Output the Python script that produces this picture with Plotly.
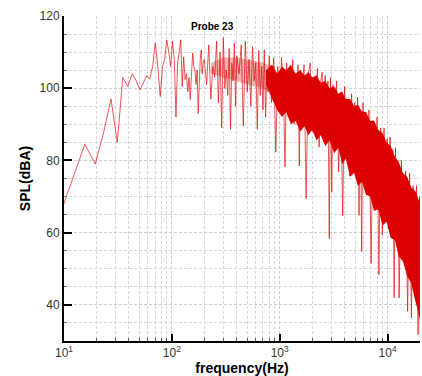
import plotly.graph_objects as go

# ---- data ----
# low-frequency FFT bins (bin spacing ~3.9 Hz)
low_freq = [7.8, 11.7, 15.6, 19.5, 23.4, 27.3, 31.2, 35.1, 39.0, 42.9, 46.8, 50.7, 54.6, 58.5, 62.4,
            66.3, 70.2, 74.1, 78.0, 81.9, 85.8, 89.7, 93.6, 97.5, 101.4, 105.3, 109.2, 113.1, 117.0,
            120.9, 124.8, 128.7, 132.6, 136.5, 140.4, 144.3, 148.2, 152.1, 156.0, 159.9, 163.8,
            167.7, 171.6, 175.5, 179.4, 183.3, 187.2, 191.1, 195.0]
low_spl = [59, 74, 84.5, 79, 88, 97, 85, 103, 100.5, 104, 102, 99.5, 101.5, 103.5, 102.5,
           106, 112.5, 106, 97.7, 106, 108, 113.4, 110, 106, 113, 108, 92, 107,
           110, 113.4, 100.5, 108.7, 102.4, 104, 99, 103, 96.9, 104, 109.8, 106, 105,
           101, 105, 93, 103, 108, 110.6, 104, 107]

# dense part (sampled)
hi_freq = [200, 210, 220, 230, 240, 250, 260, 270, 280, 290, 300, 310, 320, 330, 340, 350, 360, 370, 380, 390, 400,
           420, 440, 460, 480, 500, 520, 540, 560, 580, 600, 620, 640, 660, 680, 700, 720, 740, 760, 780, 800,
           840, 880, 920, 960, 1000, 1040, 1080, 1120, 1160, 1200, 1240, 1280, 1320, 1360, 1400, 1440, 1480, 1520, 1560, 1600,
           1680, 1760, 1840, 1920, 2000, 2080, 2160, 2240, 2320, 2400, 2480, 2560, 2640, 2720, 2800, 2880, 2960, 3040, 3120, 3200,
           3360, 3520, 3680, 3840, 4000, 4160, 4320, 4480, 4640, 4800, 4960, 5120, 5280, 5440, 5600, 5760, 5920, 6080, 6240, 6400,
           6720, 7040, 7360, 7680, 8000, 8320, 8640, 8960, 9280, 9600, 9920, 10240, 10560, 10880, 11200, 11520, 11840, 12160, 12480, 12800,
           13440, 14080, 14720, 15360, 16000, 16640, 17280, 17920, 18560, 19200, 19840, 20160]
hi_spl = [108, 101, 112, 97, 106, 103, 113, 96, 110, 89, 114, 100, 105, 98, 111, 88.6, 107, 102, 112.5, 95, 109,
          104, 112, 89.5, 113, 99, 108, 95, 111.5, 102, 107, 88.6, 110.5, 98, 106, 94, 110.6, 92, 105, 99, 109,
          96, 108.4, 82.3, 106, 94, 108.5, 101, 78.2, 107, 92, 105, 98, 107.9, 90, 104, 96, 106.5, 78.5, 105, 91,
          106.5, 69.4, 104, 107, 88, 103, 97, 105.5, 83.7, 102, 104.5, 86, 103.5, 95, 102, 58.4, 103, 71.3, 101, 84,
          102, 76.8, 99, 64.7, 100.5, 81, 97, 75.7, 98.5, 88, 96, 77, 97.5, 64.8, 94, 54.8, 96, 79, 93, 72,
          94, 51.5, 91, 70, 92, 48.3, 89, 59.3, 89, 66, 86, 61, 86.5, 69, 83, 42, 83.5, 58, 80, 41.9,
          80, 52, 77, 38.2, 76.5, 36.4, 73, 44, 73, 31.8, 70, 30]

# solid (saturated) band of the spectrum
band_freq = [750, 850, 950, 1050, 1150, 1270, 1400, 1550, 1700, 1850, 2000, 2200, 2400, 2650, 2900, 3200,
             3500, 3800, 4100, 4500, 4900, 5300, 5800, 6300, 6900, 7500, 8200, 9000, 9800, 10700, 11700,
             12700, 13900, 15200, 16600, 18100, 19500, 20500]
band_top = [105, 106.5, 104, 106, 105, 106.5, 104, 105, 103.5, 104.5, 103, 103.5, 101.5, 102, 100, 100.5,
            98.5, 99, 97, 97, 95, 95.5, 93.5, 93.5, 91, 91, 88.5, 87.5, 85, 84, 81,
            79.5, 76.5, 75.5, 72.5, 71.5, 69, 68.5]
band_bot = [101, 97, 94, 92, 93.5, 90, 91, 88, 89.5, 87, 88.5, 85.5, 87, 84, 85.5, 82,
            83.5, 79, 80.5, 75.5, 76.5, 73, 74, 70.5, 70, 66, 66.5, 62, 63, 58.5, 58,
            53.5, 52, 48, 46, 41, 37.5, 34]

# lighter, partly dense band in the mid range
mid_freq = [230, 300, 400, 500, 600, 700, 800, 900]
mid_top = [107, 108.5, 108.5, 108, 107.5, 107, 106.5, 106]
mid_bot = [104, 103, 102, 101, 100.5, 100, 99, 97]

x_tick_vals = [10, 100, 1000, 10000]
x_tick_text = ["10<sup>1</sup>", "10<sup>2</sup>", "10<sup>3</sup>", "10<sup>4</sup>"]

RED = "rgb(220,0,0)"
FONT = "Liberation Sans, Arial"

fig = go.Figure()
fig.add_trace(go.Scatter(x=mid_freq + mid_freq[::-1], y=mid_top + mid_bot[::-1], fill="toself",
                         fillcolor="rgba(220,0,0,0.3)", line=dict(width=0), mode="lines",
                         hoverinfo="skip", showlegend=False))
fig.add_trace(go.Scatter(x=band_freq + band_freq[::-1], y=band_top + band_bot[::-1], fill="toself",
                         fillcolor=RED, line=dict(width=0), mode="lines",
                         hoverinfo="skip", showlegend=False))
fig.add_trace(go.Scatter(x=low_freq + hi_freq, y=low_spl + hi_spl, mode="lines",
                         line=dict(color="rgba(220,0,0,0.65)", width=1), showlegend=False))

grid = dict(showgrid=True, gridcolor="#cccccc", gridwidth=1, griddash="3px,2px")

fig.update_xaxes(type="log", range=[1, 4.301], tickmode="array", tickvals=x_tick_vals, ticktext=x_tick_text,
                 ticks="inside", ticklen=7, tickwidth=2, tickcolor="black",
                 showline=True, linecolor="black", linewidth=2, zeroline=False,
                 tickfont=dict(family=FONT, size=12, color="#333"),
                 minor=dict(ticks="inside", ticklen=3, tickwidth=1, tickcolor="#555", dtick="D1",
                            showgrid=True, gridcolor="#d6d6d6", griddash="3px,2px"),
                 title=dict(text="<b>frequency(Hz)</b>", font=dict(family=FONT, size=14, color="black"),
                            standoff=4),
                 **grid)
fig.update_yaxes(range=[30, 120], tick0=0, dtick=20,
                 ticks="inside", ticklen=8, tickwidth=2, tickcolor="black",
                 showline=True, linecolor="black", linewidth=2, zeroline=False,
                 tickfont=dict(family=FONT, size=12, color="#333"),
                 minor=dict(ticks="inside", ticklen=3, tickwidth=1, tickcolor="#777", dtick=5,
                            showgrid=True, gridcolor="#d6d6d6", griddash="3px,2px"),
                 title=dict(text="<b>SPL(dBA)</b>", font=dict(family=FONT, size=14, color="black"),
                            standoff=6),
                 **grid)

fig.add_annotation(text="<b>Probe 23</b>", xref="paper", yref="paper", x=0.416, y=0.99,
                   showarrow=False, font=dict(family=FONT, size=10, color="black"))

fig.update_layout(width=422, height=376, margin=dict(l=64, r=2, t=16, b=33),
                  plot_bgcolor="white", paper_bgcolor="white")

fig.write_html("out.html")
